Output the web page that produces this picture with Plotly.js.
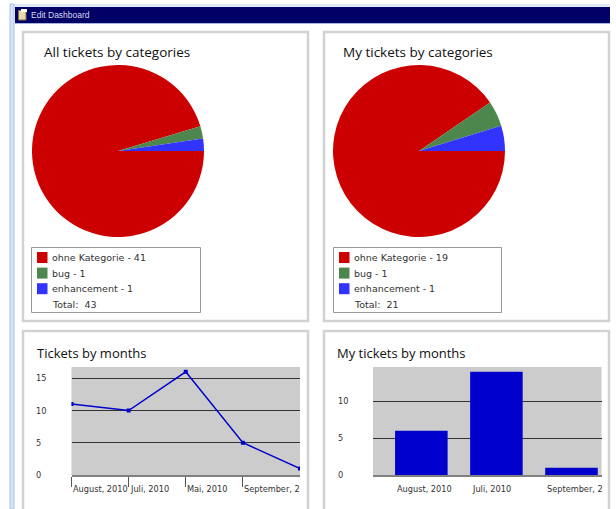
<!DOCTYPE html>
<html><head><meta charset="utf-8">
<script src="https://cdn.plot.ly/plotly-3.0.1.min.js"></script>
<style>html,body{margin:0;padding:0;background:#fff;overflow:hidden}#c{width:616px;height:509px}</style>
</head><body><div id="c"></div>
<script>
const sliceColors = ["#cc0000", "#4d874d", "#3333ff"];
const catNames = ["ohne Kategorie", "bug", "enhancement"];
const allTickets = [41, 1, 1];
const myTickets = [19, 1, 1];
const allTotal = 43;
const myTotal = 21;
const lineLabels = ["August, 2010", "Juli, 2010", "Mai, 2010", "September, 2"];
const lineIdx = [0, 1, 2, 3, 4];
const lineValues = [11, 10, 16, 5, 1];
const lineYTicks = [0, 5, 10, 15];
const barLabels = ["August, 2010", "Juli, 2010", "September, 2"];
const barValues = [6, 14, 1];
const barYTicks = [0, 5, 10];
const W = 616, H = 509;
const px = v => v / W, py = v => 1 - v / H;
const FONT = "DejaVu Sans", TITLEF = "Open Sans";

const shapes = [], annotations = [];
function rect(x0, y0, x1, y1, fill, line, lw) {
  shapes.push({type:"rect", xref:"paper", yref:"paper", layer:"below",
    x0:px(x0), x1:px(x1), y0:py(y0), y1:py(y1), fillcolor:fill||"rgba(0,0,0,0)",
    line:{color:line||"rgba(0,0,0,0)", width:lw||0}});
}
function text(x, y, t, size, color, family) {
  annotations.push({xref:"paper", yref:"paper", x:px(x), y:py(y), text:t, showarrow:false,
    xanchor:"left", yanchor:"middle", xshift:-1, borderpad:0,
    font:{size:size, color:color||"#222", family:family||FONT}});
}
// window chrome
rect(10, 4, 610, 7, "#e2ebf5");
rect(10, 4, 14, 509, "#d5e3f4", "#a8c4e6", 1);
rect(15, 7, 610, 23, "#000066");
rect(15, 23, 610, 24, "#a9b4dc");
rect(18.5, 10.5, 26, 20, "#e8d8b0", "#8a6d3b", 1);
rect(21, 9, 27, 12, "#ffffff");
text(31, 15.5, "Edit Dashboard", 8.5, "#d8d8ee", "Liberation Sans");
// panels
rect(23, 32, 308, 321, "#fff", "#d2d2d2", 2.5);
rect(324, 32, 609, 321, "#fff", "#d2d2d2", 2.5);
rect(23, 331, 308, 530, "#fff", "#d2d2d2", 2.5);
rect(324, 331, 609, 530, "#fff", "#d2d2d2", 2.5);
// plot backgrounds
rect(71.5, 367, 300, 475, "#cccccc");
rect(373, 367, 601.5, 475, "#cccccc");
// titles
text(44, 52, "All tickets by categories", 13.5, "#111", TITLEF);
text(343, 52, "My tickets by categories", 13.5, "#111", TITLEF);
text(37, 353, "Tickets by months", 13, "#111", TITLEF);
text(337, 353, "My tickets by months", 13, "#111", TITLEF);
// legends
function legend(x0, x1, values, total) {
  rect(x0, 247.5, x1, 312.5, "#fff", "#999999", 1);
  values.forEach((v, i) => {
    const y = 257.5 + i * 15.6;
    rect(x0 + 5.5, y - 5.5, x0 + 16, y + 5.5, sliceColors[i]);
    text(x0 + 20.5, y, catNames[i] + " - " + v, 9.5, "#333");
  });
  text(x0 + 20.5, 304.5, "Total:  " + total, 9.5, "#333");
}
legend(31.5, 200.5, allTickets, allTotal);
legend(333.5, 501.5, myTickets, myTotal);

function tickTexts(labels, xs, xref, xshift) {
  labels.forEach((l, i) => annotations.push({xref:xref, yref:"paper", x:xs[i], y:py(489), text:l,
    showarrow:false, xanchor:"left", yanchor:"middle", xshift:xshift,
    font:{size:8.2, color:"#333", family:FONT}}));
}
function yTexts(ticks, yref, x) {
  ticks.forEach(t => annotations.push({xref:"paper", yref:yref, x:px(x), y:t, text:String(t),
    showarrow:false, xanchor:"left", yanchor:"middle", font:{size:8.2, color:"#333", family:FONT}}));
}
tickTexts(lineLabels, [0,1,2,3], "x", -1);
tickTexts(barLabels, [0,1,2], "x2", -26);
yTexts(lineYTicks, "y", 34);
yTexts(barYTicks, "y2", 336);

const pieBase = {type:"pie", sort:false, direction:"clockwise", rotation:90, textinfo:"none",
  hoverinfo:"skip", labels:catNames, marker:{colors:sliceColors, line:{width:0}}};
const traces = [
  Object.assign({}, pieBase, {values:allTickets, domain:{x:[px(32), px(204)], y:[py(237), py(65)]}}),
  Object.assign({}, pieBase, {values:myTickets, domain:{x:[px(333), px(505)], y:[py(237), py(65)]}}),
  {type:"scatter", mode:"lines+markers", x:lineIdx, y:lineValues, xaxis:"x", yaxis:"y",
   line:{color:"#0000cc", width:1.5}, marker:{color:"#0000cc", size:4, symbol:"square"}},
  {type:"bar", x:[0,1,2], y:barValues, xaxis:"x2", yaxis:"y2", width:0.7,
   marker:{color:"#0000cc", line:{width:0}}}
];
const grid = {showgrid:true, gridcolor:"#333333", gridwidth:1, zeroline:false, showticklabels:false, ticks:"", fixedrange:true};
const layout = {
  width:W, height:H, margin:{l:0,r:0,t:0,b:0,pad:0}, showlegend:false,
  paper_bgcolor:"#ffffff", plot_bgcolor:"#cccccc", shapes:shapes, annotations:annotations,
  xaxis:{domain:[px(71.5), px(300)], range:[0,4], tickmode:"array", tickvals:[0,1,2,3], ticktext:["","","",""],
    ticks:"outside", ticklen:10, tickcolor:"#555", tickwidth:1, showgrid:false, zeroline:false,
    showline:true, linecolor:"#808080", linewidth:2, anchor:"y", fixedrange:true},
  yaxis:Object.assign({}, grid, {domain:[py(475), py(367)], range:[0,16.75], tickmode:"array", tickvals:lineYTicks, anchor:"x"}),
  xaxis2:{domain:[px(373), px(601.5)], range:[-0.644,2.4], tickmode:"array", tickvals:[0,1,2], ticktext:["","",""],
    ticks:"", showgrid:false, zeroline:false, showline:true, linecolor:"#808080", linewidth:2, anchor:"y2", fixedrange:true},
  yaxis2:Object.assign({}, grid, {domain:[py(475), py(367)], range:[0,14.65], tickmode:"array", tickvals:barYTicks, anchor:"x2"})
};
Plotly.newPlot("c", traces, layout, {displayModeBar:false, staticPlot:true});
</script></body></html>
